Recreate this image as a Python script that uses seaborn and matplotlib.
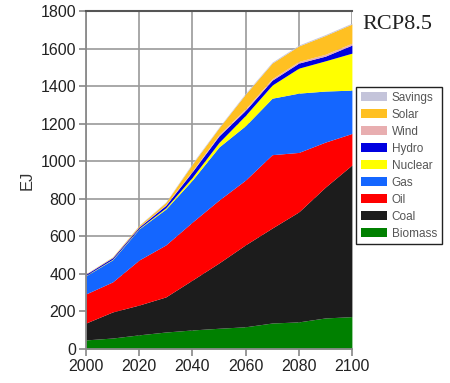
import numpy as np
import matplotlib
matplotlib.use("Agg")
import matplotlib.pyplot as plt
import seaborn as sns

# data (EJ per source)
years = [2000, 2010, 2020, 2030, 2040, 2050, 2060, 2070, 2080, 2090, 2100]
biomass = [48, 58, 75, 90, 101, 110, 118, 138, 144, 165, 172]
coal = [90, 139, 159, 187, 266, 348, 437, 506, 586, 697, 808]
oil = [155, 160, 240, 277, 309, 335, 345, 391, 317, 240, 168]
gas = [97, 118, 166, 191, 224, 283, 290, 301, 316, 272, 231]
nuclear = [2, 3, 3, 7, 15, 24, 55, 70, 133, 161, 197]
hydro = [6, 8, 7, 13, 30, 35, 27, 26, 27, 25, 43]
wind = [1, 1, 2, 3, 5, 7, 8, 8, 9, 10, 10]
solar = [1, 3, 6, 12, 35, 36, 78, 83, 82, 100, 102]
savings = [1, 1, 2, 3, 5, 4, 5, 5, 5, 5, 5]

names = ["Biomass", "Coal", "Oil", "Gas", "Nuclear", "Hydro", "Wind", "Solar", "Savings"]
colors = ["#008000", "#1c1c1c", "#ff0000", "#1466ff", "#ffff00", "#0000e0",
          "#e8aeb0", "#ffc022", "#c4c4da"]

sns.set_style("whitegrid")
plt.rcParams['font.family'] = ['Liberation Sans', 'DejaVu Sans']

fig = plt.figure(figsize=(4.5, 3.83), dpi=100)
ax = fig.add_axes([0.191, 0.089, 0.591, 0.882])

ax.stackplot(years, biomass, coal, oil, gas, nuclear, hydro, wind, solar, savings,
             colors=colors, labels=names, linewidth=0)

ax.set_xlim(2000, 2100)
ax.set_ylim(0, 1800)
ax.set_xticks(range(2000, 2101, 20))
ax.set_yticks(range(0, 1801, 200))
ax.set_axisbelow(True)
ax.grid(True, color="#9a9a9a", linewidth=1.2)
ax.tick_params(axis="both", direction="out", length=5, width=1.2, color="#888888",
               labelsize=11.5, labelcolor="#222222", pad=2, left=True, bottom=True)
for side in ["left", "bottom"]:
    ax.spines[side].set_color("#8a8a8a")
    ax.spines[side].set_linewidth(1.3)
ax.spines["top"].set_color("#555555")
ax.spines["top"].set_linewidth(1.5)
ax.spines["right"].set_visible(False)
ax.set_ylabel("EJ", fontsize=12, color="#333333", labelpad=4)

handles, labels = ax.get_legend_handles_labels()
leg = fig.legend(handles[::-1], labels[::-1], loc="upper left",
                 bbox_to_anchor=(0.792, 0.772), fontsize=8.5, frameon=True,
                 fancybox=False, edgecolor="#222222", framealpha=1,
                 handlelength=2.2, handleheight=0.8, labelspacing=0.42,
                 handletextpad=0.4, borderpad=0.4, borderaxespad=0)
leg.get_frame().set_linewidth(1.0)
for t in leg.get_texts():
    t.set_color("#555555")

fig.text(0.805, 0.935, "RCP8.5", fontsize=16, family="Liberation Serif",
         color="#222222", va="center", ha="left")

fig.savefig("out.png", dpi=100)
